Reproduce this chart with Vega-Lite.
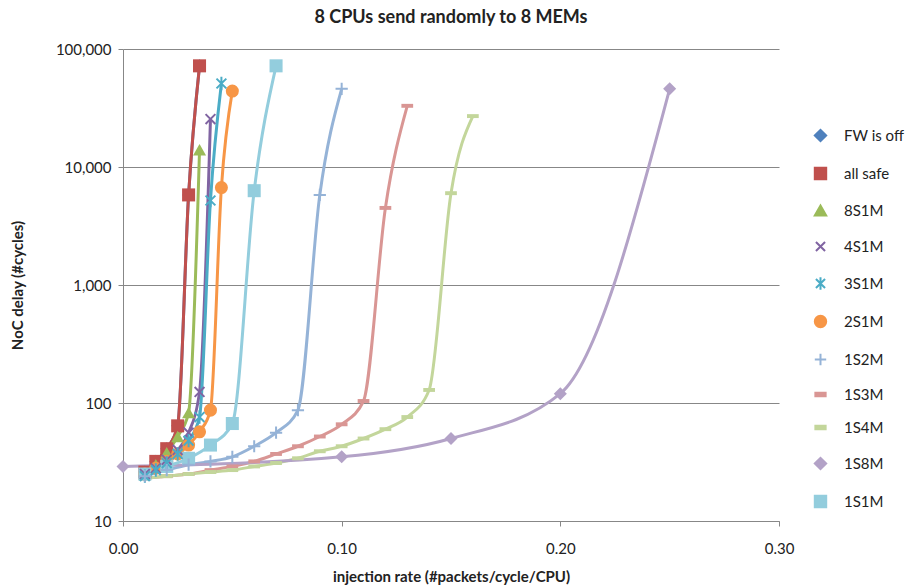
{
  "$schema": "https://vega.github.io/schema/vega-lite/v6.json",
  "width": 656,
  "height": 472,
  "autosize": {"type": "none"},
  "padding": {"left": 123, "top": 49, "right": 135, "bottom": 67},
  "background": "white",
  "title": {"text": "8 CPUs send randomly to 8 MEMs", "font": "Lato", "fontSize": 18, "fontWeight": "bold", "color": "#222222", "anchor": "middle", "offset": 15},
  "config": {
    "view": {"stroke": null},
    "font": "Lato",
    "axis": {"labelFont": "Lato", "titleFont": "Lato", "labelColor": "#222222", "titleColor": "#222222", "domainColor": "#878787", "tickColor": "#878787", "gridColor": "#878787", "labelFontSize": 15, "titleFontSize": 15, "titleFontWeight": "bold", "labelFlush": false}
  },
  "data": {"values": [
    {"s": "FW is off", "x": 0.01, "y": 26}, {"s": "FW is off", "x": 0.015, "y": 32}, {"s": "FW is off", "x": 0.02, "y": 41}, {"s": "FW is off", "x": 0.025, "y": 64}, {"s": "FW is off", "x": 0.03, "y": 5800}, {"s": "FW is off", "x": 0.035, "y": 72000},
    {"s": "all safe", "x": 0.01, "y": 26}, {"s": "all safe", "x": 0.015, "y": 32}, {"s": "all safe", "x": 0.02, "y": 41}, {"s": "all safe", "x": 0.025, "y": 64}, {"s": "all safe", "x": 0.03, "y": 5800}, {"s": "all safe", "x": 0.035, "y": 72000},
    {"s": "8S1M", "x": 0.01, "y": 25}, {"s": "8S1M", "x": 0.015, "y": 30}, {"s": "8S1M", "x": 0.02, "y": 38}, {"s": "8S1M", "x": 0.025, "y": 52}, {"s": "8S1M", "x": 0.03, "y": 83}, {"s": "8S1M", "x": 0.035, "y": 14000},
    {"s": "4S1M", "x": 0.01, "y": 25}, {"s": "4S1M", "x": 0.015, "y": 28}, {"s": "4S1M", "x": 0.02, "y": 33}, {"s": "4S1M", "x": 0.025, "y": 40}, {"s": "4S1M", "x": 0.03, "y": 56}, {"s": "4S1M", "x": 0.035, "y": 124}, {"s": "4S1M", "x": 0.04, "y": 25500},
    {"s": "3S1M", "x": 0.01, "y": 24}, {"s": "3S1M", "x": 0.015, "y": 27}, {"s": "3S1M", "x": 0.02, "y": 31}, {"s": "3S1M", "x": 0.025, "y": 37}, {"s": "3S1M", "x": 0.03, "y": 48}, {"s": "3S1M", "x": 0.035, "y": 76}, {"s": "3S1M", "x": 0.04, "y": 5200}, {"s": "3S1M", "x": 0.045, "y": 51000},
    {"s": "2S1M", "x": 0.01, "y": 25}, {"s": "2S1M", "x": 0.015, "y": 28}, {"s": "2S1M", "x": 0.02, "y": 32}, {"s": "2S1M", "x": 0.025, "y": 37}, {"s": "2S1M", "x": 0.03, "y": 44}, {"s": "2S1M", "x": 0.035, "y": 57}, {"s": "2S1M", "x": 0.04, "y": 87}, {"s": "2S1M", "x": 0.045, "y": 6700}, {"s": "2S1M", "x": 0.05, "y": 44000},
    {"s": "1S2M", "x": 0.01, "y": 24}, {"s": "1S2M", "x": 0.02, "y": 27}, {"s": "1S2M", "x": 0.03, "y": 30}, {"s": "1S2M", "x": 0.04, "y": 32}, {"s": "1S2M", "x": 0.05, "y": 35}, {"s": "1S2M", "x": 0.06, "y": 43}, {"s": "1S2M", "x": 0.07, "y": 56}, {"s": "1S2M", "x": 0.08, "y": 87}, {"s": "1S2M", "x": 0.09, "y": 5800}, {"s": "1S2M", "x": 0.1, "y": 46000},
    {"s": "1S3M", "x": 0.01, "y": 23}, {"s": "1S3M", "x": 0.02, "y": 24}, {"s": "1S3M", "x": 0.03, "y": 25}, {"s": "1S3M", "x": 0.04, "y": 27}, {"s": "1S3M", "x": 0.05, "y": 29}, {"s": "1S3M", "x": 0.06, "y": 32}, {"s": "1S3M", "x": 0.07, "y": 37}, {"s": "1S3M", "x": 0.08, "y": 43}, {"s": "1S3M", "x": 0.09, "y": 52}, {"s": "1S3M", "x": 0.1, "y": 66}, {"s": "1S3M", "x": 0.11, "y": 104}, {"s": "1S3M", "x": 0.12, "y": 4500}, {"s": "1S3M", "x": 0.13, "y": 33000},
    {"s": "1S4M", "x": 0.01, "y": 23}, {"s": "1S4M", "x": 0.02, "y": 24}, {"s": "1S4M", "x": 0.03, "y": 25}, {"s": "1S4M", "x": 0.04, "y": 26}, {"s": "1S4M", "x": 0.05, "y": 27}, {"s": "1S4M", "x": 0.06, "y": 29}, {"s": "1S4M", "x": 0.07, "y": 31}, {"s": "1S4M", "x": 0.08, "y": 34}, {"s": "1S4M", "x": 0.09, "y": 39}, {"s": "1S4M", "x": 0.1, "y": 43}, {"s": "1S4M", "x": 0.11, "y": 50}, {"s": "1S4M", "x": 0.12, "y": 60}, {"s": "1S4M", "x": 0.13, "y": 76}, {"s": "1S4M", "x": 0.14, "y": 129}, {"s": "1S4M", "x": 0.15, "y": 6000}, {"s": "1S4M", "x": 0.16, "y": 27000},
    {"s": "1S8M", "x": 0.0, "y": 29}, {"s": "1S8M", "x": 0.1, "y": 35}, {"s": "1S8M", "x": 0.15, "y": 50}, {"s": "1S8M", "x": 0.2, "y": 120}, {"s": "1S8M", "x": 0.25, "y": 46000},
    {"s": "1S1M", "x": 0.01, "y": 25}, {"s": "1S1M", "x": 0.02, "y": 29}, {"s": "1S1M", "x": 0.03, "y": 34}, {"s": "1S1M", "x": 0.04, "y": 44}, {"s": "1S1M", "x": 0.05, "y": 67}, {"s": "1S1M", "x": 0.06, "y": 6300}, {"s": "1S1M", "x": 0.07, "y": 72000}
  ]},
  "encoding": {
    "x": {"field": "x", "type": "quantitative", "scale": {"domain": [0, 0.3], "nice": false, "zero": false},
      "axis": {"title": "injection rate (#packets/cycle/CPU)", "values": [0, 0.1, 0.2, 0.3], "format": ".2f", "grid": false, "tickSize": 5, "labelPadding": 15, "titlePadding": 13}},
    "y": {"field": "y", "type": "quantitative", "scale": {"type": "log", "domain": [10, 100000], "nice": false},
      "axis": {"title": "NoC delay (#cycles)", "values": [10, 100, 1000, 10000, 100000], "format": ",d", "grid": true, "tickSize": 5, "labelPadding": 7, "titlePadding": 30}},
    "color": {"field": "s", "type": "nominal",
      "scale": {"domain": ["FW is off", "all safe", "8S1M", "4S1M", "3S1M", "2S1M", "1S2M", "1S3M", "1S4M", "1S8M", "1S1M"],
                "range": ["#4F81BD", "#C0504D", "#9BBB59", "#8064A2", "#4BACC6", "#F79646", "#95B3D7", "#D99694", "#C3D69B", "#B3A2C7", "#93CDDD"]},
      "legend": {"title": null, "orient": "none", "legendX": 690, "legendY": 79, "padding": 0, "labelFont": "Lato", "labelFontSize": 15, "labelColor": "#222222", "labelOffset": 16, "rowPadding": 17, "symbolSize": 130, "symbolStrokeWidth": 2}
    }
  },
  "layer": [
    {"mark": {"type": "line", "interpolate": "monotone", "strokeWidth": 3}},
    {"transform": [{"filter": {"field": "s", "oneOf": ["FW is off", "all safe", "8S1M", "2S1M", "1S3M", "1S4M", "1S8M", "1S1M"]}}],
     "mark": {"type": "point", "filled": true, "opacity": 1, "size": 170},
     "encoding": {"shape": {"field": "s", "type": "nominal", "legend": null,
       "scale": {"domain": ["FW is off", "all safe", "8S1M", "4S1M", "3S1M", "2S1M", "1S2M", "1S3M", "1S4M", "1S8M", "1S1M"],
         "range": ["diamond", "square", "triangle-up", "M-0.8,-0.8L0.8,0.8M-0.8,0.8L0.8,-0.8", "M-0.8,-0.8L0.8,0.8M-0.8,0.8L0.8,-0.8M0,-1.1V1.1", "circle", "M-1,0H1M0,-1V1", "M-0.9,-0.3H0.9V0.3H-0.9Z", "M-0.9,-0.3H0.9V0.3H-0.9Z", "diamond", "square"]}}}
    },
    {"transform": [{"filter": {"field": "s", "oneOf": ["4S1M", "3S1M", "1S2M"]}}],
     "mark": {"type": "point", "filled": false, "opacity": 1, "size": 150, "strokeWidth": 2},
     "encoding": {"shape": {"field": "s", "type": "nominal", "legend": null}}
    }
  ]
}
